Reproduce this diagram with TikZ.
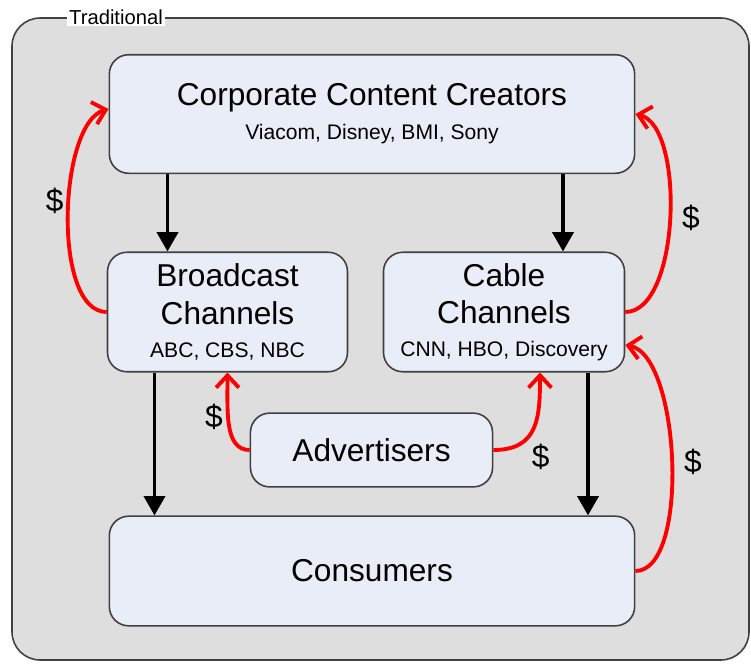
\documentclass[tikz,border=0pt]{standalone}
\usepackage{fontspec}
\setmainfont{Liberation Sans}
\usepackage{tikz}
\usetikzlibrary{positioning}
\usetikzlibrary{calc}
\usetikzlibrary{arrows.meta}
\definecolor{boxfill}{HTML}{E8EDF7}
\definecolor{framefill}{HTML}{DEDEDE}
\definecolor{edge}{HTML}{404040}
\newcommand{\partyfont}{\fontsize{18}{21.5}\selectfont}
\newcommand{\membersfont}{\fontsize{12}{14}\selectfont}
\tikzset{party/.style={draw=edge, line width=0.9pt, fill=boxfill, rounded corners=11pt, align=center, inner sep=0pt, font=\partyfont}}
\tikzset{flow/.style={line width=2pt, -{Triangle[length=11pt,width=12pt]}}}
\tikzset{money/.style={red, line width=2.2pt, -{Straight Barb[length=7pt,width=13pt]}}}
\tikzset{cash/.style={black, font=\partyfont, inner sep=2pt}}

\begin{document}
\begin{tikzpicture}[x=0.02cm, y=-0.02cm]
\useasboundingbox (0,0) rectangle (751,664);
\draw[draw=edge, line width=0.9pt, fill=framefill, rounded corners=16pt] (12,18) rectangle (749,660);
\node[fill=white, inner sep=1pt, font=\fontsize{11.5}{13}\selectfont] (frame) at (116,17) {Traditional};

\node[party, minimum width=299pt, minimum height=67.5pt] (ccc) at (372,114) {Corporate Content Creators\\[-2pt]{\membersfont Viacom, Disney, BMI, Sony}};
\node[party, minimum width=136.6pt, minimum height=68pt] (bc) at (227.5,312) {Broadcast\\Channels\\[-3pt]{\membersfont ABC, CBS, NBC}};
\node[party, minimum width=137.2pt, minimum height=68pt] (cc) at (504,312) {Cable\\Channels\\[-3pt]{\membersfont CNN, HBO, Discovery}};
\node[party, minimum width=137.8pt, minimum height=42pt] (adv) at (371.5,450) {Advertisers};
\node[party, minimum width=299pt, minimum height=62.4pt] (con) at (372,571) {Consumers};

% content goes down to the viewers
\coordinate (bcin) at ($(bc.north)+(-60,0)$);
\coordinate (ccin) at ($(cc.north)+(59,0)$);
\coordinate (bcout) at ($(bc.south)+(-73,0)$);
\coordinate (ccout) at ($(cc.south)+(84,0)$);
\draw[flow] (ccc.south -| bcin) -- (bcin);
\draw[flow] (ccc.south -| ccin) -- (ccin);
\draw[flow] (bcout) -- (bcout |- con.north);
\draw[flow] (ccout) -- (ccout |- con.north);

% money goes back up
\draw[money] (bc.west) .. controls +(-55,0) and +(-50,14) .. ($(ccc.west)+(0,-5)$) node[cash, pos=0.55, left] (d1) {\$};
\draw[money] (cc.east) .. controls +(55,0) and +(50,12) .. (ccc.east) node[cash, pos=0.5, right=4pt] (d2) {\$};
\draw[money] (con.east) .. controls +(55,0) and +(55,10) .. ($(cc.east)+(0,33)$) node[cash, pos=0.5, right=4pt] (d3) {\$};
\draw[money] (adv.west) .. controls +(-25,0) and +(0,40) .. (bc.south) node[cash, pos=0.6, left] (d4) {\$};
\draw[money] (adv.east) .. controls +(45,0) and +(0,45) .. ($(cc.south)+(36,0)$) node[cash, pos=0.35, below right] (d5) {\$};
\end{tikzpicture}
\end{document}
